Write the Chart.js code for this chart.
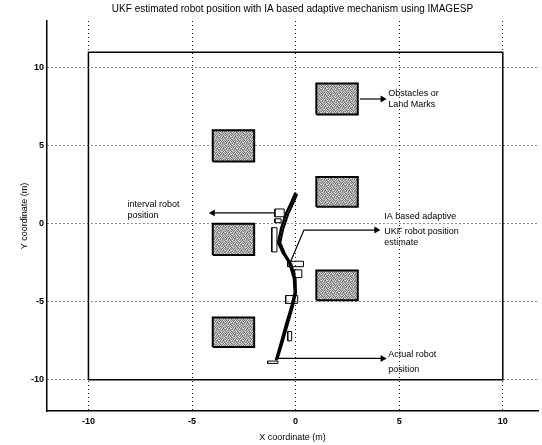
<!DOCTYPE html>
<html><head><meta charset="utf-8">
<script src="https://cdn.jsdelivr.net/npm/chart.js@4.4.0/dist/chart.umd.min.js"></script>
<style>html,body{margin:0;padding:0;background:#fff;overflow:hidden}#wrap{width:542px;height:445px}</style>
</head><body><div id="wrap"><canvas id="c" width="542" height="445"></canvas></div>
<script>
const titleText = "UKF estimated robot position with IA based adaptive mechanism using IMAGESP";
const xAxisTitle = "X coordinate (m)";
const yAxisTitle = "Y coordinate (m)";
const xTicks = [-10, -5, 0, 5, 10];
const yTicks = [-10, -5, 0, 5, 10];

// environment boundary
const boundaryX = [-10, 10, 10, -10, -10];
const boundaryY = [-10, -10, 11, 11, -10];

// obstacles / landmarks (rectangles)
const obstacleX1 = [1, -4, 1, -4, 1, -4];
const obstacleX2 = [3, -2, 3, -2, 3, -2];
const obstacleY1 = [7, 4, 1.1, -2, -4.9, -7.9];
const obstacleY2 = [9, 6, 3, 0, -3, -6];

// IA based adaptive UKF estimate
const estimateX = [0.0, -0.2, -0.45, -0.7, -0.84, -0.62, -0.3, -0.08, -0.04, -0.2, -0.45, -0.7, -0.95];
const estimateY = [2.0, 1.4, 0.7, -0.3, -1.2, -1.85, -2.5, -3.5, -4.4, -5.3, -6.4, -7.6, -8.75];
// actual robot position
const actualX = [0.08, -0.12, -0.36, -0.6, -0.74, -0.52, -0.2, 0.0, 0.02, -0.14, -0.38, -0.64, -0.88];
const actualY = [1.9, 1.3, 0.6, -0.35, -1.2, -1.9, -2.6, -3.55, -4.45, -5.35, -6.45, -7.65, -8.7];

// interval robot position boxes
const intervalX1 = [-1.0, -1.0, -1.15, -0.38, -0.05, -0.48, -0.38, -1.35];
const intervalX2 = [-0.55, -0.7, -0.9, 0.38, 0.3, 0.1, -0.19, -0.85];
const intervalY1 = [0.45, 0.07, -1.8, -2.75, -3.45, -5.1, -7.5, -8.95];
const intervalY2 = [0.95, 0.32, -0.25, -2.4, -2.95, -4.6, -6.9, -8.8];

// annotation texts
const labelText = ["Obstacles or", "Land Marks", "interval robot", "position",
  "IA based adaptive", "UKF robot position", "estimate", "Actual robot", "position"];
const labelX = [4.47, 4.47, -8.12, -8.12, 4.28, 4.28, 4.28, 4.47, 4.47];
const labelY = [8.37, 7.67, 1.21, 0.51, 0.45, -0.51, -1.21, -8.37, -9.33];

// annotation arrows (polylines, head at last point)
const arrowXs = [[3.1, 4.2], [-1.0, -4.0], [-0.25, 0.4, 3.9], [-0.9, 4.2]];
const arrowYs = [[8.0, 8.0], [0.7, 0.7], [-2.45, -0.4, -0.4], [-8.63, -8.63]];
const arrowHeadRotation = [90, -90, 90, 90];

// speckled gray texture for obstacle fill (style only)
const textureShades = [
  [150, 200, 120, 170, 220, 140],
  [190, 130, 230, 110, 160, 200],
  [120, 210, 150, 190, 130, 170],
  [220, 140, 180, 120, 210, 110],
  [160, 110, 200, 230, 140, 190],
  [130, 180, 140, 160, 120, 220]
];
function makeTexture() {
  const c = document.createElement('canvas');
  c.width = 6; c.height = 6;
  const g = c.getContext('2d');
  textureShades.forEach((row, r) => row.forEach((v, k) => {
    g.fillStyle = 'rgb(' + v + ',' + v + ',' + v + ')';
    g.fillRect(k, r, 1, 1);
  }));
  return document.getElementById('c').getContext('2d').createPattern(c, 'repeat');
}
const texture = makeTexture();

const pts = (xs, ys) => xs.map((x, i) => ({x: x, y: ys[i]}));
const rect = (x1, x2, y1, y2) => [{x:x1,y:y1},{x:x2,y:y1},{x:x2,y:y2},{x:x1,y:y2},{x:x1,y:y1}];

const datasets = [];
datasets.push({data: pts(boundaryX, boundaryY), showLine: true, borderColor: '#000', borderWidth: 1.5, pointRadius: 0, fill: false});
obstacleX1.forEach((_, i) => {
  datasets.push({data: rect(obstacleX1[i], obstacleX2[i], obstacleY1[i], obstacleY2[i]), showLine: true,
    borderColor: '#000', borderWidth: 2, backgroundColor: texture, pointRadius: 0, fill: 'shape'});
});
datasets.push({data: pts(estimateX, estimateY), showLine: true, borderColor: '#000', borderWidth: 2.5, pointRadius: 0, fill: false});
datasets.push({data: pts(actualX, actualY), showLine: true, borderColor: '#000', borderWidth: 2, pointRadius: 0, fill: false});
intervalX1.forEach((_, i) => {
  datasets.push({data: rect(intervalX1[i], intervalX2[i], intervalY1[i], intervalY2[i]), showLine: true,
    borderColor: '#000', borderWidth: 1, pointRadius: 0, fill: false});
});
arrowXs.forEach((xs, i) => {
  const d = pts(xs, arrowYs[i]);
  const radii = d.map((_, k) => k === d.length - 1 ? 4 : 0);
  datasets.push({data: d, showLine: true, borderColor: '#000', borderWidth: 1.2, fill: false,
    pointRadius: radii, pointStyle: 'triangle', pointRotation: arrowHeadRotation[i],
    pointBackgroundColor: '#000', pointBorderColor: '#000', pointBorderWidth: 0});
});

const textPlugin = {
  id: 'texts',
  afterDatasetsDraw(chart) {
    const ctx = chart.ctx, xs = chart.scales.x, ys = chart.scales.y;
    ctx.save();
    ctx.font = '9px "Liberation Sans", Arial, sans-serif';
    ctx.fillStyle = '#000';
    ctx.textAlign = 'left';
    ctx.textBaseline = 'middle';
    labelText.forEach((t, i) => ctx.fillText(t, xs.getPixelForValue(labelX[i]), ys.getPixelForValue(labelY[i])));
    ctx.restore();
  }
};

new Chart(document.getElementById('c'), {
  type: 'scatter',
  data: {datasets: datasets},
  options: {
    responsive: false, animation: false, devicePixelRatio: 1,
    layout: {padding: {left: 0, right: 2, top: 0, bottom: 0}},
    plugins: {
      legend: {display: false}, tooltip: {enabled: false},
      title: {display: true, text: titleText, fullSize: false, color: '#000',
        font: {family: '"Liberation Sans", Arial, sans-serif', size: 10, weight: 'normal'},
        padding: {top: 3, bottom: 6}}
    },
    scales: {
      x: {
        type: 'linear', min: -12, max: 11.7,
        afterBuildTicks: (a) => { a.ticks = xTicks.map(v => ({value: v})); },
        afterFit: (a) => { a.height = 34; },
        grid: {color: '#222', lineWidth: 1, drawTicks: false},
        border: {display: true, color: '#000', width: 1.5, dash: [1, 3]},
        ticks: {color: '#000', padding: 5, font: {family: '"Liberation Sans", Arial, sans-serif', size: 9, weight: 'bold'}},
        title: {display: true, text: xAxisTitle, color: '#000', padding: {top: 2, bottom: 2},
          font: {family: '"Liberation Sans", Arial, sans-serif', size: 9}}
      },
      y: {
        type: 'linear', min: -12, max: 13,
        afterBuildTicks: (a) => { a.ticks = yTicks.map(v => ({value: v})); },
        afterFit: (a) => { a.width = 47; },
        grid: {color: '#222', lineWidth: 1, drawTicks: false},
        border: {display: true, color: '#000', width: 1.5, dash: [1, 3]},
        ticks: {color: '#000', padding: 3, font: {family: '"Liberation Sans", Arial, sans-serif', size: 9, weight: 'bold'}},
        title: {display: true, text: yAxisTitle, color: '#000', padding: {top: 19, bottom: 0},
          font: {family: '"Liberation Sans", Arial, sans-serif', size: 9}}
      }
    }
  },
  plugins: [textPlugin]
});
</script>
</body></html>
